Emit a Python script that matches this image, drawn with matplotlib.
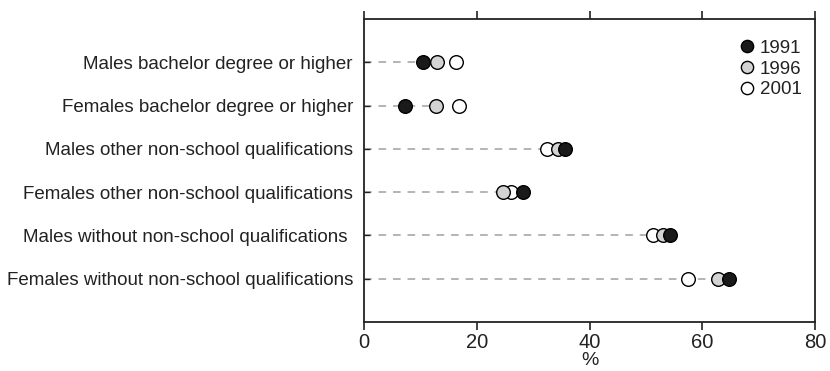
import matplotlib.pyplot as plt

plt.rcParams['font.family'] = ['Liberation Sans', 'DejaVu Sans']

# data
categories = [
    "Males bachelor degree or higher",
    "Females bachelor degree or higher",
    "Males other non-school qualifications",
    "Females other non-school qualifications",
    "Males without non-school qualifications ",
    "Females without non-school qualifications",
]
v1991 = [10.5, 7.2, 35.7, 28.2, 54.2, 64.8]
v1996 = [13.0, 12.8, 34.4, 24.7, 53.1, 62.7]
v2001 = [16.3, 16.9, 32.4, 26.0, 51.3, 57.4]
xticks = [0, 20, 40, 60, 80]

fig = plt.figure(figsize=(8.3, 3.71), dpi=100)
ax = fig.add_axes([0.4386, 0.132, 0.5434, 0.817])

ypos = list(range(1, len(categories) + 1))
txt = '#222222'

# dashed guide lines
for y, b in zip(ypos, v1996):
    ax.plot([0, b], [y, y], ls=(0, (5, 4.5)), color='#a0a0a0', lw=1.1, zorder=1)

ms = 9.8
ax.plot(v2001, ypos, 'o', ms=ms, mfc='white', mec='black', mew=1.0, ls='none', label='2001', zorder=3)
ax.plot(v1996, ypos, 'o', ms=ms, mfc='#d3d3d3', mec='black', mew=1.0, ls='none', label='1996', zorder=4)
ax.plot(v1991, ypos, 'o', ms=ms, mfc='#1a1a1a', mec='black', mew=1.0, ls='none', label='1991', zorder=5)

ax.set_xlim(0, 80)
ax.set_ylim(7, 0)
ax.set_xticks(xticks)
ax.set_xticklabels([str(t) for t in xticks], fontsize=14.5, color=txt)
ax.set_yticks(ypos)
ax.set_yticklabels(categories, fontsize=13.5, color=txt)
ax.set_xlabel('%', fontsize=14, color=txt, labelpad=0)

ax.tick_params(axis='x', which='both', direction='out', length=6, width=1.2,
               top=True, labeltop=False, color='#222222', pad=2)
ax.tick_params(axis='y', direction='in', length=4, width=1, color='#222222', pad=8)
for s in ax.spines.values():
    s.set_linewidth(1.3)
    s.set_color('#222222')

h, l = ax.get_legend_handles_labels()
ax.legend(h[::-1], l[::-1], loc='upper right', bbox_to_anchor=(1.0, 0.975),
          frameon=False, fontsize=13.5,
          handletextpad=0.1, handlelength=1.2, labelspacing=0.2,
          borderaxespad=0.3, markerscale=0.9, labelcolor=txt)

fig.savefig('out.png', dpi=100)
